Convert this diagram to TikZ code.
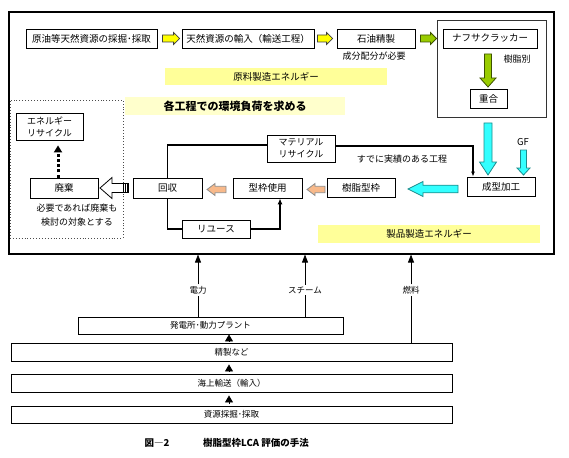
\documentclass[tikz,border=0pt]{standalone}
\usepackage{fontspec}
\setmainfont{Noto Sans CJK JP}
\usetikzlibrary{calc,arrows.meta}
\definecolor{ylw}{HTML}{FFFF00}
\definecolor{bandc}{HTML}{FFFF99}
\definecolor{bandlt}{HTML}{FFFFCC}
\definecolor{grn}{HTML}{99CC00}
\definecolor{cyn}{HTML}{33FFFF}
\definecolor{org}{HTML}{F8B98A}
\newcommand{\blkarrow}[6]{%
  \coordinate (bah) at ($(#2)!#5!(#1)$);
  \filldraw[#6] ($(#1)!#3!90:(#2)$) -- ($(bah)!#3!90:(#2)$) -- ($(bah)!#4!90:(#2)$) -- (#2)
    -- ($(bah)!#4!-90:(#2)$) -- ($(bah)!#3!-90:(#2)$) -- ($(#1)!#3!-90:(#2)$) -- cycle;}
\begin{document}
\begin{tikzpicture}[x=1pt,y=-1pt,
  box/.style={draw, fill=white, line width=0.8pt, inner sep=0pt, font=\fontsize{9.5}{11}\selectfont, align=center},
  sbox/.style={box, font=\fontsize{8.5}{10}\selectfont, line width=0.9pt},
  bandbox/.style={fill=bandc, inner sep=0pt, font=\fontsize{9.5}{11}\selectfont},
  lbl/.style={inner sep=1pt, font=\fontsize{9}{11}\selectfont, align=center},
  slbl/.style={inner sep=1.5pt, font=\fontsize{8.5}{10}\selectfont},
  conn/.style={line width=1.4pt},
  uparr/.style={line width=0.8pt, -{Triangle[width=6pt,length=8pt]}},
  yarr/.style={fill=ylw, draw=black!75, line width=0.8pt},
  garr/.style={fill=grn, draw=black!60!grn, line width=0.8pt},
  carr/.style={fill=cyn, draw=black!45!cyn, line width=0.8pt},
  oarr/.style={fill=org, draw=black!45, line width=0.8pt},
  harr/.style={fill=white, draw=black, line width=0.8pt}
]
\useasboundingbox (0,0) rectangle (569,457);
% frames
\node[draw, line width=1.1pt, minimum width=545pt, minimum height=242pt, inner sep=0pt] (outer) at (281.5,133) {};
\node[draw=black!80, line width=0.9pt, minimum width=109pt, minimum height=97pt, inner sep=0pt] (crackbox) at (491.5,68.5) {};
\node[draw=black!70, dotted, line width=0.9pt, minimum width=113pt, minimum height=138pt, inner sep=0pt] (dotbox) at (66.5,169) {};
% bands
\node[bandbox, minimum width=222pt, minimum height=17pt] (band1) at (276,76.5) {原料製造エネルギー};
\node[bandbox, fill=bandlt, minimum width=220pt, minimum height=18pt, font=\bfseries\fontsize{11}{13}\selectfont] (band2) at (235,106) {各工程での環境負荷を求める};
\node[bandbox, minimum width=222pt, minimum height=18pt] (band3) at (429,234) {製品製造エネルギー};
% top row
\node[box, minimum width=131pt, minimum height=19pt] (raw1) at (91.5,38.5) {原油等天然資源の採掘･採取};
\node[box, minimum width=132pt, minimum height=19pt] (raw2) at (248,38.5) {天然資源の輸入（輸送工程）};
\node[box, minimum width=78pt, minimum height=19pt] (refine) at (376,38.5) {石油精製};
\node[box, minimum width=94pt, minimum height=19pt] (naphtha) at (490,38.5) {ナフサクラッカー};
\node[box, minimum width=37pt, minimum height=19pt] (poly) at (488.5,98.5) {重合};
\node[lbl] (t1) at (374,56) {成分配分が必要};
\node[lbl] (t2) at (517,59) {樹脂別};
% middle row
\node[box, minimum width=67pt, minimum height=27pt, font=\fontsize{9}{12}\selectfont] (erecyc) at (49.5,126.5) {エネルギー\\リサイクル};
\node[box, minimum width=68pt, minimum height=20pt] (haiki) at (64,188) {廃棄};
\node[box, minimum width=69pt, minimum height=20pt] (kaishu) at (167.5,188) {回収};
\node[box, minimum width=69pt, minimum height=20pt] (katause) at (267.5,188) {型枠使用};
\node[box, minimum width=68pt, minimum height=19pt] (jushi) at (361,188) {樹脂型枠};
\node[box, minimum width=68pt, minimum height=19pt] (molding) at (501,186.5) {成型加工};
\node[box, minimum width=68pt, minimum height=27pt, font=\fontsize{9}{12}\selectfont] (material) at (301,148.5) {マテリアル\\リサイクル};
\node[box, minimum width=68pt, minimum height=18pt] (reuse) at (216,229) {リユース};
\node[lbl, font=\fontsize{9}{14}\selectfont] (t3) at (77,215) {必要であれば廃棄も\\検討の対象とする};
\node[lbl] (t4) at (402,159) {すでに実績のある工程};
\node[lbl, font=\fontsize{9.5}{11}\selectfont] (gf) at (523,142) {GF};
% block arrows
\coordinate (a1t) at ([xshift=5pt]raw1.east);
\coordinate (a1h) at ([xshift=-2pt]raw2.west);
\blkarrow{a1t}{a1h}{3.5pt}{6pt}{6pt}{yarr}
\coordinate (a2t) at ([xshift=3pt]raw2.east);
\coordinate (a2h) at ([xshift=-4pt]refine.west);
\blkarrow{a2t}{a2h}{3.5pt}{6pt}{6pt}{yarr}
\coordinate (a3t) at ([xshift=5pt]refine.east);
\coordinate (a3h) at (crackbox.west |- refine.east);
\blkarrow{a3t}{a3h}{3.5pt}{6pt}{6pt}{garr}
\coordinate (a4t) at (488,54);
\coordinate (a4h) at (488,87);
\blkarrow{a4t}{a4h}{3.5pt}{8pt}{9pt}{garr}
\coordinate (a5t) at (488,123);
\coordinate (a5h) at (488,175);
\blkarrow{a5t}{a5h}{4pt}{8.5pt}{13pt}{carr}
\coordinate (a6t) at (523.5,150);
\coordinate (a6h) at (523.5,175);
\blkarrow{a6t}{a6h}{3pt}{6.5pt}{7pt}{carr}
\coordinate (a7t) at (458,189);
\coordinate (a7h) at (408,189);
\blkarrow{a7t}{a7h}{3.8pt}{7.5pt}{15pt}{carr}
\coordinate (a8t) at (226,189.5);
\coordinate (a8h) at (207,189.5);
\blkarrow{a8t}{a8h}{3.2pt}{6pt}{8pt}{oarr}
\coordinate (a9t) at (325,189.5);
\coordinate (a9h) at (307,189.5);
\blkarrow{a9t}{a9h}{3.2pt}{6pt}{8pt}{oarr}
\coordinate (a10t) at (128.5,188);
\coordinate (a10h) at (100,188);
\blkarrow{a10t}{a10h}{4.5pt}{10.5pt}{12pt}{harr}
\foreach \xx in {123.5,125.5,127.5} \draw[line width=1.1pt] (\xx,183.5) -- (\xx,192.5);
% dotted arrow
\draw[line width=3pt, dash pattern=on 3pt off 2.2pt, -{Triangle[width=8pt,length=7pt]}] ([xshift=-6pt]haiki.north) -- ([xshift=-6pt,yshift=-5pt]haiki.north |- erecyc.south);
% line connectors
\draw[conn] (kaishu.north) |- ([yshift=3.5pt]material.west);
\draw[conn, -{Latex[length=5pt,width=4pt]}] ([yshift=2.5pt]material.east) -| ([xshift=-28pt]molding.north);
\draw[conn] (kaishu.south) |- (reuse.west);
\draw[conn, -{Latex[length=6pt,width=5pt]}] (reuse.east) -| ([xshift=12.5pt]katause.south);
% bottom stack
\node[sbox, minimum width=265pt, minimum height=17pt] (plant) at (210.5,325.5) {発電所･動力プラント};
\node[sbox, minimum width=441pt, minimum height=18pt] (refine2) at (231.5,352) {精製など};
\node[sbox, minimum width=441pt, minimum height=18pt] (sea) at (231.5,383) {海上輸送（輸入）};
\node[sbox, minimum width=441pt, minimum height=17pt] (res) at (231.5,414.5) {資源採掘･採取};
\node[slbl] (den) at (198,290) {電力};
\node[slbl] (steam) at (305,290) {スチーム};
\node[slbl] (fuel) at (411,290) {燃料};
\draw[line width=0.8pt] (den |- plant.north) -- (den.south);
\draw[uparr] (den.north) -- (den |- outer.south);
\draw[line width=0.8pt] (steam |- plant.north) -- (steam.south);
\draw[uparr] (steam.north) -- (steam |- outer.south);
\draw[line width=0.8pt] (fuel |- refine2.north) -- (fuel.south);
\draw[uparr] (fuel.north) -- (fuel |- outer.south);
\coordinate (ax) at (229,0);
\draw[-{Triangle[width=8pt,length=7pt]}, line width=0.8pt, shorten <=1pt] (refine2.north -| ax) -- (plant.south -| ax);
\draw[-{Triangle[width=8pt,length=7pt]}, line width=0.8pt, shorten <=1.5pt] (sea.north -| ax) -- ([yshift=-3pt]refine2.south -| ax);
\draw[-{Triangle[width=8pt,length=7pt]}, line width=0.8pt, shorten <=1.5pt] (res.north -| ax) -- ([yshift=-3pt]sea.south -| ax);
% caption
\node[font=\bfseries\fontsize{9.5}{11}\selectfont, inner sep=0pt] (cap1) at (157,443) {図―2};
\node[font=\bfseries\fontsize{9.5}{11}\selectfont, inner sep=0pt] (cap2) at (256,443) {樹脂型枠LCA 評価の手法};
\end{tikzpicture}
\end{document}
